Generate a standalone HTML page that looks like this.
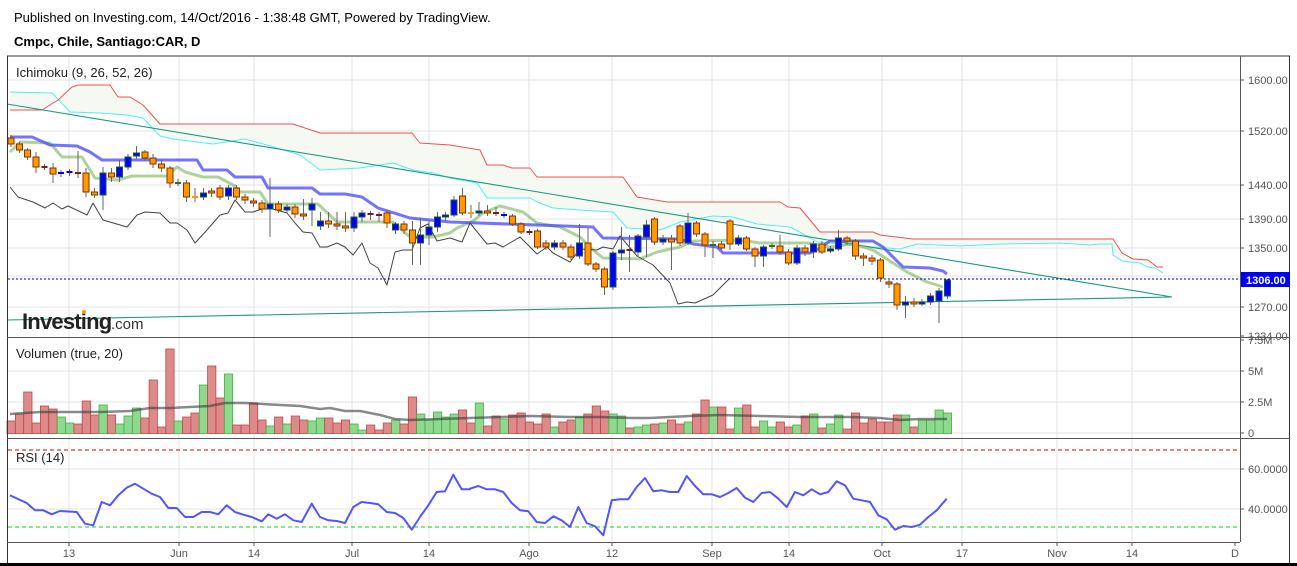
<!DOCTYPE html>
<html><head><meta charset="utf-8">
<style>
html,body{margin:0;padding:0;background:#fff;width:1297px;height:566px;overflow:hidden;font-family:"Liberation Sans",sans-serif;}
svg{position:absolute;left:0;top:0}
</style></head>
<body>
<svg id="s" width="1297" height="566" xmlns="http://www.w3.org/2000/svg" font-family="Liberation Sans, sans-serif">
<text x="14" y="22" font-size="13" fill="#000">Published on Investing.com, 14/Oct/2016 - 1:38:48 GMT, Powered by TradingView.</text>
<text x="14" y="46" font-size="13" font-weight="bold" fill="#000">Cmpc, Chile, Santiago:CAR, D</text>
<g id="g"></g>
</svg>
<script>
var g=document.getElementById('g');var out='';
function L(x1,y1,x2,y2,c,w,extra){out+='<line x1="'+x1+'" y1="'+y1+'" x2="'+x2+'" y2="'+y2+'" stroke="'+c+'" stroke-width="'+(w||1)+'" '+(extra||'')+'/>';}
function P(pts,c,w,extra){out+='<polyline fill="none" points="'+pts.map(function(p){return p.join(',')}).join(' ')+'" stroke="'+c+'" stroke-width="'+w+'" stroke-linejoin="round" '+(extra||'')+'/>';}
function T(x,y,s,sz,c,extra){out+='<text x="'+x+'" y="'+y+'" font-size="'+sz+'" fill="'+c+'" '+(extra||'')+'>'+s+'</text>';}
var vx=[69,179,254,352,429,529,612,712,789,882,962,1057,1132];
vx.forEach(function(x){L(x,57,x,542,'#e3e3e3',1);});
[80,131,185,219,248,276,307].forEach(function(y){L(8,y,1240,y,'#e3e3e3',1);});
[371,402,433].forEach(function(y){L(8,y,1240,y,'#e3e3e3',1);});
[469,509].forEach(function(y){L(8,y,1240,y,'#e3e3e3',1);});
var A=[[10,92],[52,93],[70,112],[100,113],[127,115],[143,118],[160,136],[173,139],[213,144],[245,139],[267,145],[300,155],[320,170],[360,168],[393,163],[413,170],[433,173],[450,178],[477,183],[487,198],[530,198],[537,202],[553,208],[580,210],[613,212],[627,228],[660,230],[680,222],[713,216],[733,217],[757,224],[790,227],[807,236],[817,242],[873,247],[900,249],[917,244],[960,246],[1000,244],[1060,243],[1090,245],[1100,244],[1112,244],[1113,255],[1122,261],[1140,263],[1148,267],[1155,268],[1163,273]];
var B=[[10,110],[42,110],[58,100],[72,87],[78,85],[110,85],[118,97],[130,97],[143,105],[160,124],[293,124],[320,133],[412,133],[420,143],[450,145],[480,150],[487,165],[503,165],[512,168],[530,168],[537,177],[623,177],[637,197],[667,202],[780,202],[788,207],[800,208],[820,232],[873,232],[880,235],[913,239],[1113,239],[1122,253],[1133,259],[1148,260],[1157,267],[1163,267]];
out+='<polygon points="'+A.concat(B.slice().reverse()).map(function(p){return p.join(',')}).join(' ')+'" fill="#f6f9f2"/>';
P(A,'#4ff0f0',1);P(B,'#f05050',1);
L(7,104,1172,297,'#1a9a80',1.1);L(7,320,1172,297,'#1a9a80',1.1);
var TK=[[10,152],[20,142],[50,143],[62,157],[82,157],[95,178],[118,180],[132,176],[167,176],[177,167],[185,172],[203,177],[218,177],[235,186],[240,192],[260,192],[268,204],[318,204],[337,222],[393,222],[410,237],[433,237],[450,233],[457,228],[473,221],[483,213],[500,206],[523,212],[537,223],[560,227],[580,237],[593,250],[603,258],[640,259],[657,252],[680,247],[693,241],[740,240],[760,243],[807,243],[830,247],[853,244],[873,250],[893,263],[907,272],[927,282],[943,287]];
P(TK,'rgba(120,180,90,0.6)',3);
var KJ=[[10,137],[32,137],[50,145],[77,146],[90,152],[102,160],[197,160],[203,170],[227,170],[235,177],[262,177],[268,188],[312,188],[320,194],[345,194],[362,197],[378,208],[410,218],[450,222],[593,227],[603,238],[680,239],[693,244],[717,247],[723,253],[810,253],[820,248],[830,241],[873,241],[883,247],[903,267],[930,268],[943,271],[947,274]];
P(KJ,'rgba(80,80,255,0.8)',3);
var CH=[[10,187],[18,197],[33,202],[45,208],[53,203],[62,209],[68,206],[87,215],[93,203],[103,220],[127,227],[137,215],[145,212],[160,213],[170,223],[177,223],[187,230],[195,243],[207,230],[220,215],[228,213],[235,200],[245,212],[253,212],[262,209],[273,209],[287,213],[295,223],[303,232],[312,233],[320,247],[327,247],[337,243],[345,247],[353,255],[362,243],[370,263],[378,268],[387,285],[395,252],[403,250],[412,250],[420,228],[428,224],[437,241],[450,238],[462,242],[470,223],[487,244],[495,243],[503,247],[520,237],[537,254],[547,247],[553,253],[570,262],[580,249],[597,250],[603,247],[613,249],[620,236],[637,256],[653,265],[670,283],[678,304],[687,302],[695,303],[713,295],[730,278]];
P(CH,'#444',1);
L(8,279,1240,279,'#0000aa',1,'stroke-dasharray="2,2"');
var C=[[138,144,'o',135,147],[144,150,'o',142,153],[150,157,'o',148,160],[157,167,'o',152,173],[167,167,'d',164,170],[168,174,'o',163,183],[173,173,'b',170,177],[172,172,'b',169,176],[173,173,'d',151,178],[173,192,'o',168,197],[192,195,'o',188,198],[173,195,'b',167,210],[173,177,'o',168,182],[167,177,'b',160,182],[157,167,'b',154,170],[153,156,'b',146,159],[152,158,'o',150,161],[158,164,'o',154,168],[164,168,'o',160,172],[168,183,'o',166,188],[183,183,'g',179,186],[183,197,'o',180,202],[197,197,'o',188,202],[193,197,'b',188,200],[191,193,'o',188,197],[188,197,'o',185,200],[188,196,'b',185,200],[188,197,'o',185,200],[197,200,'o',194,204],[201,203,'o',198,207],[203,209,'o',200,213],[204,209,'b',178,237],[204,210,'o',201,213],[207,210,'b',204,213],[207,214,'o',204,218],[214,216,'o',199,220],[204,210,'b',198,226],[221,226,'b',212,230],[221,224,'o',212,228],[224,226,'o',212,230],[226,228,'o',212,232],[217,228,'b',212,232],[213,217,'b',210,222],[214,214,'d',211,220],[215,215,'d',212,222],[213,223,'o',210,228],[224,230,'b',222,234],[224,230,'o',221,234],[230,243,'o',221,265],[235,243,'b',218,265],[227,235,'b',220,245],[217,227,'b',212,232],[215,217,'b',212,221],[200,215,'b',196,217],[196,213,'o',188,215],[213,213,'o',205,218],[211,213,'b',202,216],[211,213,'o',205,216],[213,213,'d',207,216],[215,215,'b',212,218],[216,224,'o',214,226],[224,232,'o',222,234],[232,232,'d',229,235],[231,247,'o',229,249],[243,247,'o',240,250],[243,247,'b',240,250],[243,247,'o',240,250],[247,257,'o',244,260],[243,256,'b',224,259],[243,264,'o',228,266],[264,269,'o',262,272],[269,287,'o',267,295],[253,287,'b',251,290],[250,253,'b',227,260],[250,250,'d',235,272],[236,252,'b',234,257],[225,237,'b',220,257],[219,242,'o',217,245],[239,242,'b',235,245],[239,242,'o',235,270],[226,243,'o',224,246],[223,243,'b',213,245],[223,234,'o',221,237],[234,245,'o',232,257],[245,245,'g',241,258],[244,248,'o',241,250],[221,244,'o',219,250],[238,244,'b',235,246],[238,249,'o',236,251],[249,256,'o',247,267],[247,256,'b',245,267],[246,246,'g',243,249],[246,252,'o',235,255],[252,263,'o',249,265],[248,263,'b',245,265],[248,252,'o',245,256],[244,252,'b',241,258],[244,252,'o',241,254],[249,251,'b',246,253],[238,249,'b',230,251],[238,241,'o',236,245],[241,256,'o',239,260],[256,258,'o',253,266],[258,261,'o',255,265],[260,278,'o',258,282],[282,284,'o',280,288],[284,305,'o',282,310],[302,305,'b',296,318],[302,304,'o',298,307],[302,304,'b',299,306],[296,302,'b',293,305],[291,301,'b',288,323],[280,296,'b',279,299]];
C.forEach(function(c,i){var x=11+8.36*i;x=Math.round(x*2)/2;
 var col={o:'#ff9900',b:'#0000ff',d:'#7a1a1a',g:'#2a6a3a'}[c[2]];var bd={o:'#8a3000',b:'#1f5a2a',d:'#7a1a1a',g:'#2a6a3a'}[c[2]];
 L(x,c[3],x,c[4],'#666',1);
 var h=c[1]-c[0];
 if(h<2){L(x-3,c[0],x+3,c[0],col,2);}else{out+='<rect x="'+(x-3)+'" y="'+c[0]+'" width="6" height="'+h+'" fill="'+col+'" stroke="'+bd+'" stroke-width="1"/>';}
});
var V=[[421,'r'],[414,'r'],[392,'r'],[423,'r'],[406,'r'],[409,'r'],[417,'g'],[423,'g'],[424,'r'],[401,'r'],[415,'r'],[405,'g'],[415,'r'],[424,'g'],[416,'g'],[408,'g'],[418,'r'],[380,'r'],[427,'r'],[349,'r'],[421,'g'],[417,'r'],[413,'r'],[385,'g'],[366,'r'],[398,'r'],[374,'g'],[425,'r'],[425,'r'],[403,'r'],[420,'r'],[426,'g'],[417,'r'],[424,'g'],[416,'r'],[420,'r'],[421,'g'],[418,'g'],[418,'r'],[423,'r'],[420,'r'],[424,'g'],[430,'g'],[425,'r'],[430,'r'],[423,'r'],[420,'g'],[424,'r'],[397,'r'],[414,'g'],[420,'g'],[412,'g'],[417,'g'],[414,'g'],[410,'r'],[423,'r'],[403,'g'],[426,'r'],[416,'r'],[419,'g'],[415,'r'],[413,'r'],[422,'r'],[424,'r'],[414,'r'],[427,'g'],[422,'r'],[420,'r'],[417,'g'],[414,'r'],[406,'r'],[411,'r'],[414,'g'],[416,'g'],[428,'r'],[427,'g'],[425,'g'],[424,'r'],[423,'g'],[420,'r'],[424,'r'],[422,'g'],[414,'r'],[400,'r'],[407,'g'],[407,'r'],[429,'r'],[408,'g'],[405,'r'],[427,'r'],[421,'g'],[427,'g'],[422,'r'],[427,'r'],[425,'g'],[416,'r'],[414,'g'],[428,'r'],[424,'g'],[415,'g'],[429,'r'],[413,'r'],[423,'r'],[419,'r'],[422,'r'],[422,'r'],[415,'r'],[415,'g'],[427,'r'],[420,'g'],[420,'g'],[410,'g'],[413,'g']];
V.forEach(function(v,i){var x=7+8.36*i;var f=v[1]=='r'?'#dc8a8a':'#8ed98e',s=v[1]=='r'?'#c04848':'#48b048';
 out+='<rect x="'+x.toFixed(1)+'" y="'+v[0]+'" width="8.3" height="'+(433.5-v[0])+'" fill="'+f+'" stroke="'+s+'" stroke-width="0.8"/>';});
P([[10,414],[40,412],[100,412],[130,411],[150,408],[170,408],[190,407],[210,406],[225,403],[245,403],[280,405],[300,406],[320,409],[330,408],[345,411],[360,411],[380,415],[395,419],[410,420],[440,419],[470,418],[530,416],[570,417],[600,417],[630,418],[650,418],[690,416],[720,415],[760,416],[800,417],[850,417],[880,418],[900,420],[920,419],[947,419]],'rgba(60,60,60,0.6)',2.5);
L(8,450,1240,450,'#dd0000',1,'stroke-dasharray="4,3"');
L(8,527,1240,527,'#00dd00',1,'stroke-dasharray="4,3"');
var R1=[[30,475],[80,498],[105,520],[130,520],[155,532],[180,522],[230,525],[255,560],[280,565],[305,495],[330,505],[355,475],[380,452],[405,440],[430,455],[455,470],[480,480],[505,513],[530,513],[555,540],[580,540],[605,525],[630,525],[655,532],[680,505],[705,525],[730,533],[755,540],[785,553],[805,532],[830,545],[855,532],[880,550],[905,555],[935,500],[960,540],[985,550],[1010,552],[1035,558],[1060,510],[1085,495],[1110,498],[1135,502],[1160,525],[1185,528],[1210,543],[1235,578],[1260,540],[1285,505],[1310,465],[1335,463],[1360,413],[1385,457],[1410,457]].map(function(p){return [p[0]/3,337+p[1]/3]});
var R2=[[0,455],[25,447],[50,457],[75,457],[100,465],[125,498],[150,520],[175,523],[200,555],[225,558],[250,538],[275,550],[300,570],[325,510],[350,558],[375,568],[400,595],[425,490],[450,487],[475,487],[500,450],[525,423],[550,463],[575,460],[600,465],[625,465],[650,417],[675,447],[700,472],[725,472],[750,480],[775,468],[800,453],[825,482],[850,495],[875,468],[900,465],[925,485],[950,510],[975,465],[1000,475],[1025,457],[1050,472],[1075,465],[1100,433],[1125,445],[1150,485],[1175,490],[1200,495],[1225,535],[1250,547],[1275,578],[1300,567],[1325,570],[1350,563],[1375,540],[1400,520],[1430,485]].map(function(p){return [470+p[0]/3,337+p[1]/3]});
P(R1.concat(R2).map(function(p){return [p[0].toFixed(1),p[1].toFixed(1)]}),'#5555ff',2);
L(7,56,1290,56,'#333',1);L(7.5,56,7.5,563,'#333',1);L(1289.5,56,1289.5,563,'#333',1);
L(1240.5,56,1240.5,542,'#555',1);
L(7,337.5,1290,337.5,'#555',1);L(7,438.5,1290,438.5,'#555',1);L(7,542.5,1240,542.5,'#555',1);
L(0,564.5,1297,564.5,'#000',3);
[[80,'1600.00'],[131,'1520.00'],[185,'1440.00'],[219,'1390.00'],[248,'1350.00'],[307,'1270.00'],[336,'1234.00']].forEach(function(a){L(1240,a[0],1244,a[0],'#555',1);T(1248,a[0]+4,a[1],11,'#555');});
[[340,'7.5M'],[371,'5M'],[402,'2.5M'],[433,'0']].forEach(function(a){L(1240,a[0],1244,a[0],'#555',1);T(1248,a[0]+4,a[1],11,'#555');});
[[469,'60.0000'],[509,'40.0000']].forEach(function(a){L(1240,a[0],1244,a[0],'#555',1);T(1248,a[0]+4,a[1],11,'#555');});
out+='<rect x="1241" y="272" width="49" height="15" fill="#0000ee"/>';
T(1246,284,'1306.00',11,'#fff','font-weight="bold"');
var lab=[[69,'13'],[179,'Jun'],[254,'14'],[352,'Jul'],[429,'14'],[529,'Ago'],[612,'12'],[712,'Sep'],[789,'14'],[882,'Oct'],[962,'17'],[1057,'Nov'],[1132,'14'],[1235,'D']];
lab.forEach(function(a){L(a[0],542,a[0],546,'#555',1);T(a[0],557,a[1],11,'#555','text-anchor="middle"');});
T(16,77,'Ichimoku (9, 26, 52, 26)',13,'#222');
T(16,358,'Volumen (true, 20)',13,'#222');
T(16,462,'RSI (14)',13,'#222');
T(22,329,'Investing',22,'#222','font-weight="bold" letter-spacing="-0.8"');
T(111,329,'.com',15,'#333');
out+='<circle cx="84" cy="312" r="2" fill="#f5a000"/>';
g.innerHTML=out;
</script>
</body></html>
